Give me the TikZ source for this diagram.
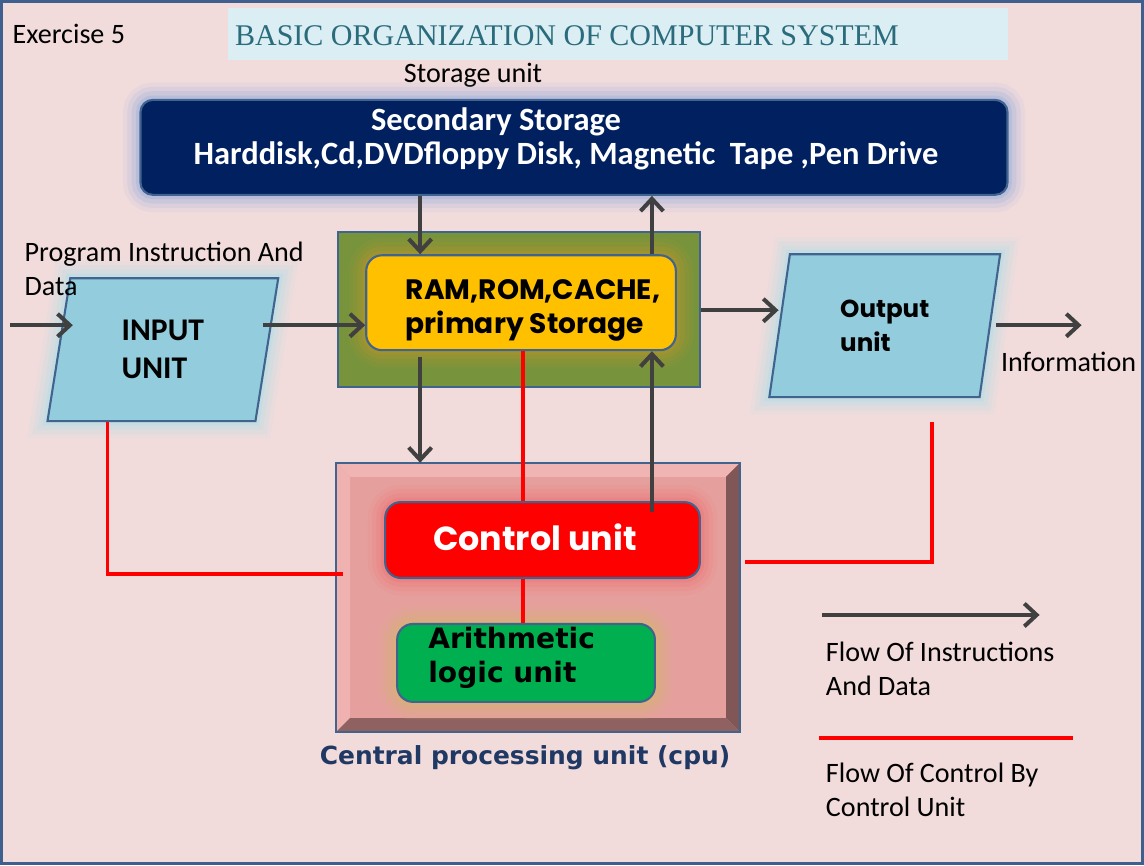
\documentclass[tikz,border=0pt]{standalone}
\usepackage{fontspec}
\setmainfont{Carlito}
\newfontfamily\gothicfont{Poppins}
\newfontfamily\blackfont{DejaVu Sans}
\newfontfamily\titlefont{Liberation Serif}
\usepackage{tikz}
\usetikzlibrary{arrows.meta}
\usetikzlibrary{shapes.geometric}
\definecolor{bgpink}{HTML}{F2DCDB}
\definecolor{frameblue}{HTML}{3F5F8F}
\definecolor{titlecyan}{HTML}{DAEEF3}
\definecolor{titleteal}{HTML}{2A6B7C}
\definecolor{navy}{HTML}{002060}
\definecolor{storeglow}{HTML}{8EA9DB}
\definecolor{edgeblue}{HTML}{41648E}
\definecolor{olive}{HTML}{77933C}
\definecolor{gold}{HTML}{FFC000}
\definecolor{goldglow}{HTML}{C0962A}
\definecolor{paracyan}{HTML}{93CDDD}
\definecolor{paraglow}{HTML}{A8DCEC}
\definecolor{cpupink}{HTML}{E5A09E}
\definecolor{bevdark}{HTML}{805656}
\definecolor{bevlight}{HTML}{F0B4B2}
\definecolor{ctrlglow}{HTML}{F07070}
\definecolor{alugreen}{HTML}{00B050}
\definecolor{aluglow}{HTML}{D4B86A}
\definecolor{cpulabel}{HTML}{1F3864}
\definecolor{arrowgray}{HTML}{404040}
\tikzset{%
  flowarrow/.style={draw=arrowgray, line width=2.3pt, -{Straight Barb[length=7pt,width=13pt]}},
  ctrlline/.style={draw=red, line width=2.1pt},
  box/.style={draw=edgeblue, line width=1.2pt},
  glow/.style={preaction={draw=#1, line width=20pt, opacity=.10},
               preaction={draw=#1, line width=15pt, opacity=.14},
               preaction={draw=#1, line width=10pt, opacity=.2},
               preaction={draw=#1, line width=5pt, opacity=.3}},
  parabox/.style={box, glow=paraglow, fill=paracyan, trapezium, trapezium stretches body,
                  trapezium left angle=72, trapezium right angle=108,
                  minimum width=4.62cm, minimum height=2.86cm, align=left},
  plain/.style={font=\fontsize{16}{19.3}\selectfont, align=left}
}

\begin{document}
\begin{tikzpicture}[x=0.02cm, y=-0.02cm]
  \fill[bgpink] (0,0) rectangle (1144,865);
  \draw[frameblue, line width=1.7pt] (1,1) rectangle (1143,864);
  \useasboundingbox (0,0) rectangle (1144,865);

  \node[fill=titlecyan, minimum width=15.6cm, minimum height=1.04cm] (title) at (618,34) {};
  \node[text=titleteal, font=\titlefont\fontsize{17.1}{20}\selectfont] (titletext) at (567,35) {BASIC ORGANIZATION OF COMPUTER SYSTEM};
  \node[plain, anchor=west] (ex) at (6,33) {Exercise 5};
  \node[plain] (stlabel) at (473,75) {Storage unit};

  \node[box, glow=storeglow, fill=navy, rounded corners=7pt, minimum width=17.36cm, minimum height=1.9cm] (sec) at (574,147) {};
  \node[text=white, font=\bfseries\fontsize{18.5}{20}\selectfont] (sectitle) at (496,121) {Secondary Storage};
  \node[text=white, font=\bfseries\fontsize{18.5}{20}\selectfont] (seclist) at (566,155) {Harddisk,Cd,DVDfloppy Disk, Magnetic\ \ Tape ,Pen Drive};

  \node[box, fill=olive, minimum width=7.24cm, minimum height=3.1cm] (mainmem) at (519,309.5) {};
  \node[box, glow=goldglow, fill=gold, rounded corners=9pt, minimum width=6.2cm, minimum height=1.9cm] (prim) at (521,302.5) {};
  \node[font=\gothicfont\bfseries\fontsize{16}{19.3}\selectfont, align=left] (primtext) at (533,310) {RAM,ROM,CACHE,\\primary Storage};

  \node[parabox, font=\bfseries\fontsize{18}{21.5}\selectfont] (inp) at (162.5,349.5) {INPUT\\UNIT};
  \node[parabox, font=\gothicfont\bfseries\fontsize{14}{19.3}\selectfont] (outp) at (885,325.5) {Output\\unit};
  \node[plain, anchor=west] (progdata) at (18,269) {Program Instruction And\\Data};
  \node[plain] (info) at (1069,362) {Information};

  \node[fill=cpupink, minimum width=8.08cm, minimum height=5.38cm] (cpu) at (538,597.5) {};
  \fill[bevlight] (cpu.north west) -- (cpu.north east) -- ([shift={(-14,14)}]cpu.north east) -- ([shift={(14,14)}]cpu.north west) -- cycle;
  \fill[bevlight!90!cpupink] (cpu.north west) -- (cpu.south west) -- ([shift={(14,-14)}]cpu.south west) -- ([shift={(14,14)}]cpu.north west) -- cycle;
  \fill[bevdark] (cpu.north east) -- (cpu.south east) -- ([shift={(-14,-14)}]cpu.south east) -- ([shift={(-14,14)}]cpu.north east) -- cycle;
  \fill[bevdark!85!cpupink] (cpu.south west) -- (cpu.south east) -- ([shift={(-14,-14)}]cpu.south east) -- ([shift={(14,-14)}]cpu.south west) -- cycle;
  \draw[box] (cpu.north west) rectangle (cpu.south east);
  \node[box, glow=ctrlglow, fill=red, rounded corners=9pt, minimum width=6.3cm, minimum height=1.52cm] (ctrl) at (542.5,540) {};
  \node[text=white, font=\gothicfont\bfseries\fontsize{19}{20}\selectfont] (ctrltext) at (535,537) {Control unit};
  \node[box, glow=aluglow, fill=alugreen, rounded corners=9pt, minimum width=5.16cm, minimum height=1.56cm] (alu) at (526,663) {};
  \node[anchor=west, align=left, font=\blackfont\bfseries\fontsize{16}{19.3}\selectfont] (alutext) at (422,658) {Arithmetic\\logic unit};
  \node[text=cpulabel, font=\blackfont\bfseries\fontsize{14.2}{16}\selectfont] (cpulab) at (525,758) {Central processing unit (cpu)};

  % flow of instructions and data
  \coordinate (src) at (10,325);
  \coordinate (dnx) at (420,0);
  \coordinate (upx) at (652,0);
  \coordinate (outy) at (0,310);
  \coordinate (infoend) at (1082,325);
  \draw[flowarrow] (src) -- ([xshift=0.3cm]src -| inp.left side);
  \draw[flowarrow] ([xshift=-0.1cm]src -| inp.right side) -- (src -| prim.west);
  \draw[flowarrow] (sec.south -| dnx) -- (prim.north -| dnx);
  \draw[flowarrow] (prim.north -| upx) -- (sec.south -| upx);
  \draw[flowarrow] (mainmem.east |- outy) -- (outp.left side |- outy);
  \draw[flowarrow] ([xshift=0.1cm]outp.right side |- infoend) -- (infoend);
  \draw[flowarrow, shorten <=3pt] (prim.south -| dnx) -- (cpu.north -| dnx);
  \draw[flowarrow, shorten <=-6pt] (ctrl.north -| upx) -- (prim.south -| upx);

  % flow of control
  \coordinate (ctlx) at (107,574);
  \coordinate (midx) at (523,0);
  \coordinate (cpuright) at (745,562);
  \coordinate (outtap) at (932,422);
  \draw[ctrlline] (inp.south -| ctlx) |- ([xshift=0.14cm]cpu.west |- ctlx);
  \draw[ctrlline] (prim.south -| midx) -- (ctrl.north -| midx);
  \draw[ctrlline] (ctrl.south -| midx) -- (alu.north -| midx);
  \draw[ctrlline] (cpuright) -| (outtap);

  % legend
  \coordinate (legA) at (822,615);
  \coordinate (legB) at (1040,615);
  \coordinate (legC) at (819,738);
  \coordinate (legD) at (1073,738);
  \draw[flowarrow] (legA) -- (legB);
  \node[plain, anchor=west] (legflow) at (820,669) {Flow Of Instructions\\And Data};
  \draw[ctrlline] (legC) -- (legD);
  \node[plain, anchor=west] (legctrl) at (820,790) {Flow Of Control By\\Control Unit};
\end{tikzpicture}
\end{document}
